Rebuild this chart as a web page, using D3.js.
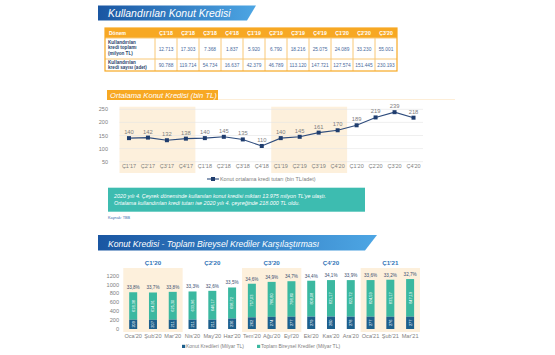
<!DOCTYPE html>
<html><head><meta charset="utf-8">
<script src="https://cdn.jsdelivr.net/npm/d3@7"></script>
<style>body{margin:0;background:#fff}svg{display:block;font-family:"Liberation Sans",Arial,sans-serif}</style>
</head><body>
<svg id="c" width="555" height="355"></svg>
<script>
// ---------- DATA ----------
const tableQuarters = ["Ç1'18","Ç2'18","Ç3'18","Ç4'18","Ç1'19","Ç2'19","Ç3'19","Ç4'19","Ç1'20","Ç2'20","Ç3'20"];
const loanAmounts = ["12.713","17.303","7.368","1.837","5.920","6.790","18.216","25.075","24.089","33.230","55.001"];
const loanCounts = ["90.788","119.714","54.734","16.637","42.379","46.789","113.120","147.721","127.574","151.445","230.193"];

const lineCats = ["Ç1'17","Ç2'17","Ç3'17","Ç4'17","Ç1'18","Ç2'18","Ç3'18","Ç4'18","Ç1'19","Ç2'19","Ç3'19","Ç4'20","Ç1'20","Ç2'20","Ç3'20","Ç4'20"];
const lineValues = [140,142,132,138,140,145,135,110,140,145,161,170,189,219,239,218];
const lineTicks = [50,100,150,200,250];

const months = ["Oca'20","Şub'20","Mar'20","Nis'20","May'20","Haz'20","Tem'20","Ağu'20","Eyl'20","Eki'20","Kas'20","Ara'20","Oca'21","Şub'21","Mar'21"];
const quarterLabels = ["Ç1'20","Ç2'20","Ç3'20","Ç4'20","Ç1'21"];
const housingLoans = [209,207,211,211,211,236,262,274,277,279,280,278,277,276,277];
const otherLoans = [618.38,614.91,625.30,633.96,648.17,698.72,757.03,786.80,798.80,808.08,821.17,822.72,824.59,833.17,847.19];
const ratioLabels = ["33,8%","33,7%","33,8%","33,3%","32,6%","33,5%","34,6%","34,9%","34,7%","34,4%","34,1%","33,9%","33,6%","33,2%","32,7%"];
const barTicks = [0,200,400,600,800,1000,1200];

// ---------- DRAW ----------
const svg = d3.select("#c");
const defs = svg.append("defs");
const g1 = defs.append("linearGradient").attr("id","bannerGrad");
g1.append("stop").attr("offset","0%").attr("stop-color","#1a56a2");
g1.append("stop").attr("offset","100%").attr("stop-color","#4da6e4");

function banner(x0,y0,x1top,x1bot,y1,text,fs){
  svg.append("path").attr("d",`M${x0},${y0}L${x1top},${y0}L${x1bot},${y1}L${x0},${y1}Z`).attr("fill","url(#bannerGrad)");
  svg.append("text").attr("x",x0+10).attr("y",y1-4).attr("fill","#fff").attr("font-size",fs).attr("font-style","italic").text(text);
}
banner(98,5.5,256,247,20.5,"Kullandırılan Konut Kredisi",10.4);

// Table
const tx = d3.scaleBand().domain(tableQuarters).range([155,397]);
const orange="#f7a823", tblLine="#f9c877", tblText="#4a6a9c";
svg.append("rect").attr("x",105).attr("y",28).attr("width",292).attr("height",10).attr("fill",orange);
svg.append("rect").attr("x",105).attr("y",38).attr("width",292).attr("height",33).attr("fill","#fff");
[38,59].forEach(y=>svg.append("line").attr("x1",105).attr("x2",397).attr("y1",y).attr("y2",y).attr("stroke",tblLine).attr("stroke-width",1));
svg.selectAll(".vl").data(tableQuarters).enter().append("line")
  .attr("x1",d=>tx(d)).attr("x2",d=>tx(d)).attr("y1",38).attr("y2",71).attr("stroke",tblLine).attr("stroke-width",1);
svg.append("rect").attr("x",105).attr("y",28).attr("width",292).attr("height",43).attr("fill","none").attr("stroke",orange).attr("stroke-width",1.2);
svg.append("text").attr("x",109).attr("y",35).attr("fill","#fff").attr("font-size",5).attr("font-weight","bold").text("Dönem");
svg.selectAll(".th").data(tableQuarters).enter().append("text")
  .attr("x",d=>tx(d)+tx.bandwidth()/2).attr("y",35).attr("text-anchor","middle")
  .attr("fill","#fff").attr("font-size",5.2).attr("font-weight","bold").text(d=>d);
const rl1=["Kullandırılan","kredi toplamı","(milyon TL)"], rl2=["Kullandırılan","kredi sayısı (adet)"];
rl1.forEach((t,i)=>svg.append("text").attr("x",108).attr("y",44+i*5.3).attr("font-size",4.6).attr("font-weight","bold").attr("fill","#2b3f6b").text(t));
rl2.forEach((t,i)=>svg.append("text").attr("x",108).attr("y",64.2+i*5.2).attr("font-size",4.6).attr("font-weight","bold").attr("fill","#2b3f6b").text(t));
svg.selectAll(".r1").data(loanAmounts).enter().append("text")
  .attr("x",(d,i)=>tx(tableQuarters[i])+tx.bandwidth()/2).attr("y",51).attr("text-anchor","middle")
  .attr("font-size",4.8).attr("fill",tblText).text(d=>d);
svg.selectAll(".r2").data(loanCounts).enter().append("text")
  .attr("x",(d,i)=>tx(tableQuarters[i])+tx.bandwidth()/2).attr("y",67).attr("text-anchor","middle")
  .attr("font-size",4.8).attr("fill",tblText).text(d=>d);

// Line chart
svg.append("rect").attr("x",107).attr("y",90).attr("width",111).attr("height",10).attr("fill",orange);
svg.append("text").attr("x",110).attr("y",97.7).attr("fill","#fff").attr("font-size",7.6).attr("font-style","italic").text("Ortalama Konut Kredisi (bin TL)");
svg.append("line").attr("x1",218).attr("x2",455).attr("y1",99.5).attr("y2",99.5).attr("stroke","#fbe3bd").attr("stroke-width",0.6);

const lx = d3.scaleBand().domain(lineCats.map((d,i)=>i)).range([119.5,423]);
const ly = d3.scaleLinear().domain([0,250]).range([174.8,109.3]);
const shade="#fdf0dc";
[[0,3],[8,11]].forEach(([a,b])=>svg.append("rect").attr("x",lx(a)).attr("width",lx(b)+lx.bandwidth()-lx(a)).attr("y",106.7).attr("height",173-106.7).attr("fill",shade));
svg.selectAll(".lg").data(lineTicks).enter().append("line")
  .attr("x1",119.5).attr("x2",423).attr("y1",d=>ly(d)).attr("y2",d=>ly(d)).attr("stroke","#e4e4e4").attr("stroke-width",0.6);
svg.selectAll(".lt").data(lineTicks).enter().append("text")
  .attr("x",108).attr("y",d=>ly(d)+2).attr("text-anchor","end").attr("font-size",5.5).attr("fill","#808080").text(d=>d);
svg.selectAll(".lxl").data(lineCats).enter().append("text")
  .attr("x",(d,i)=>lx(i)+lx.bandwidth()/2).attr("y",168).attr("text-anchor","middle").attr("font-size",5.5).attr("fill","#808080").text(d=>d);
const line = d3.line().x((d,i)=>lx(i)+lx.bandwidth()/2).y(d=>ly(d));
svg.append("path").datum(lineValues).attr("d",line).attr("fill","none").attr("stroke","#2d4b7c").attr("stroke-width",1.1);
svg.selectAll(".pt").data(lineValues).enter().append("rect")
  .attr("x",(d,i)=>lx(i)+lx.bandwidth()/2-2).attr("y",d=>ly(d)-2).attr("width",4).attr("height",4).attr("fill","#1f3d6e");
svg.selectAll(".pl").data(lineValues).enter().append("text")
  .attr("x",(d,i)=>lx(i)+lx.bandwidth()/2).attr("y",d=>ly(d)-4).attr("text-anchor","middle").attr("font-size",5.8).attr("fill","#808080").text(d=>d);
svg.append("line").attr("x1",207).attr("x2",219).attr("y1",179).attr("y2",179).attr("stroke","#2d4b7c").attr("stroke-width",1.1);
svg.append("rect").attr("x",211).attr("y",177).attr("width",4).attr("height",4).attr("fill","#1f3d6e");
svg.append("text").attr("x",220).attr("y",181).attr("font-size",5.4).attr("fill","#808080").text("Konut ortalama kredi tutarı (bin TL/adet)");

// Green note box
svg.append("rect").attr("x",108).attr("y",187.7).attr("width",257).attr("height",24).attr("fill","#3dbcb0");
svg.append("text").attr("x",114).attr("y",197.5).attr("font-size",5.4).attr("font-style","italic").attr("fill","#fff").text("2020 yılı 4. Çeyrek döneminde kullanılan konut kredisi miktarı 13.975 milyon TL'ye ulaştı.");
svg.append("text").attr("x",114).attr("y",205.2).attr("font-size",5.4).attr("font-style","italic").attr("fill","#fff").text("Ortalama kullandırılan kredi tutarı ise 2020 yılı 4. çeyreğinde 218.000 TL oldu.");
svg.append("text").attr("x",108).attr("y",218.5).attr("font-size",3.8).attr("fill","#3a6db0").text("Kaynak: TBB");

// Bottom banner
banner(98,235,377,365,250.5,"Konut Kredisi - Toplam Bireysel Krediler Karşılaştırması",8.6);

// Bar chart
const bx = d3.scaleBand().domain(months).range([123.3,420]);
const by = d3.scaleLinear().domain([0,1200]).range([329,275.7]);
const bw = 8;
[[0,2],[6,8],[12,14]].forEach(([a,b])=>svg.append("rect").attr("x",bx(months[a])).attr("width",bx(months[b])+bx.bandwidth()-bx(months[a])).attr("y",268).attr("height",64).attr("fill",shade));
svg.selectAll(".ql").data(quarterLabels).enter().append("text")
  .attr("x",(d,i)=>bx(months[i*3+1])+bx.bandwidth()/2).attr("y",264.5).attr("text-anchor","middle")
  .attr("font-size",6.2).attr("font-weight","bold").attr("fill","#3275b8").text(d=>d);
svg.selectAll(".bt").data(barTicks).enter().append("text")
  .attr("x",119).attr("y",d=>by(d)+2).attr("text-anchor","end").attr("font-size",5.6).attr("fill","#808080").text(d=>d);
const cx = m=>bx(m)+bx.bandwidth()/2;
svg.selectAll(".bg").data(months).enter().append("rect")
  .attr("x",d=>cx(d)-bw/2).attr("width",bw)
  .attr("y",(d,i)=>by(housingLoans[i]+otherLoans[i])).attr("height",(d,i)=>by(housingLoans[i])-by(housingLoans[i]+otherLoans[i]))
  .attr("fill","#3bb8a0");
svg.selectAll(".bk").data(months).enter().append("rect")
  .attr("x",d=>cx(d)-bw/2).attr("width",bw)
  .attr("y",(d,i)=>by(housingLoans[i])).attr("height",(d,i)=>by(0)-by(housingLoans[i]))
  .attr("fill","#1d5f8c");
svg.selectAll(".gl").data(months).enter().append("text")
  .attr("transform",(d,i)=>`translate(${cx(d)+1.4},${(by(housingLoans[i])+by(housingLoans[i]+otherLoans[i]))/2}) rotate(-90)`)
  .attr("text-anchor","middle").attr("font-size",3.9).attr("fill","#fff")
  .text((d,i)=>otherLoans[i].toFixed(2).replace(".",","));
svg.selectAll(".kl").data(months).enter().append("text")
  .attr("transform",(d,i)=>`translate(${cx(d)+1.4},${(by(0)+by(housingLoans[i]))/2}) rotate(-90)`)
  .attr("text-anchor","middle").attr("font-size",3.9).attr("fill","#fff")
  .text((d,i)=>housingLoans[i]);
svg.selectAll(".rl").data(months).enter().append("text")
  .attr("x",d=>cx(d)).attr("y",(d,i)=>by(housingLoans[i]+otherLoans[i])-3)
  .attr("text-anchor","middle").attr("font-size",4.6).attr("fill","#3a4e70").text((d,i)=>ratioLabels[i]);
svg.selectAll(".ml").data(months).enter().append("text")
  .attr("x",d=>cx(d)).attr("y",338).attr("text-anchor","middle").attr("font-size",5.6).attr("fill","#808080").text(d=>d);
svg.append("rect").attr("x",182).attr("y",344.8).attr("width",3.2).attr("height",3.2).attr("fill","#1d5f8c");
svg.append("text").attr("x",186).attr("y",348).attr("font-size",5).attr("fill","#808080").text("Konut Kredileri (Milyar TL)");
svg.append("rect").attr("x",257).attr("y",344.8).attr("width",3.2).attr("height",3.2).attr("fill","#3bb8a0");
svg.append("text").attr("x",261).attr("y",348).attr("font-size",5).attr("fill","#808080").text("Toplam Bireysel Krediler (Milyar TL)");
</script>
</body></html>
